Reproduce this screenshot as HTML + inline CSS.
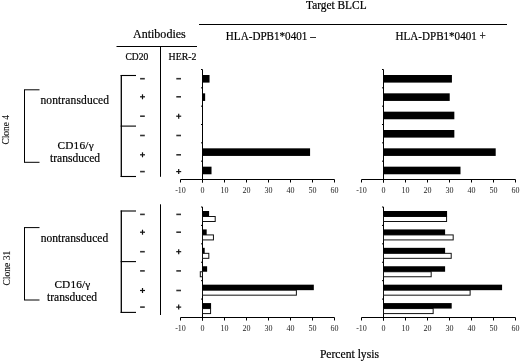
<!DOCTYPE html>
<html><head><meta charset="utf-8"><style>
html,body{margin:0;padding:0;background:#fff;width:520px;height:361px;overflow:hidden}
svg{display:block;will-change:transform}
text{font-family:"Liberation Serif", serif;fill:#000;stroke:#000;stroke-width:0.2px}
text.r{stroke-width:0.1px;fill:#111}
text.t{stroke-width:0;fill:#222}
</style></head><body>
<svg width="520" height="361" viewBox="0 0 520 361">
<text x="306.02" y="9.4" font-size="11.6" text-anchor="start" textLength="60.58" lengthAdjust="spacingAndGlyphs">Target BLCL</text>
<text x="225.84" y="39.75" font-size="11.8" text-anchor="start" textLength="89.88" lengthAdjust="spacingAndGlyphs">HLA-DPB1*0401 –</text>
<text x="395.6" y="39.75" font-size="11.8" text-anchor="start" textLength="90.14" lengthAdjust="spacingAndGlyphs">HLA-DPB1*0401 +</text>
<text x="132.97" y="37.75" font-size="11.8" text-anchor="start" textLength="52.81" lengthAdjust="spacingAndGlyphs">Antibodies</text>
<text x="125.43" y="59.5" font-size="10.3" text-anchor="start" textLength="22.81" lengthAdjust="spacingAndGlyphs">CD20</text>
<text x="168.53" y="59.5" font-size="10.3" text-anchor="start" textLength="27.93" lengthAdjust="spacingAndGlyphs">HER-2</text>
<text x="40.42" y="103.6" font-size="11.5" text-anchor="start" textLength="68.58" lengthAdjust="spacing">nontransduced</text>
<text x="57.38" y="148.75" font-size="11.3" text-anchor="start" textLength="36.30" lengthAdjust="spacing">CD16/γ</text>
<text x="50.04" y="161.5" font-size="11.5" text-anchor="start" textLength="49.96" lengthAdjust="spacing">transduced</text>
<text x="40.64" y="241.5" font-size="11.5" text-anchor="start" textLength="67.56" lengthAdjust="spacing">nontransduced</text>
<text x="54.38" y="288.0" font-size="11.3" text-anchor="start" textLength="35.96" lengthAdjust="spacing">CD16/γ</text>
<text x="47.04" y="300.6" font-size="11.5" text-anchor="start" textLength="49.96" lengthAdjust="spacing">transduced</text>
<text x="319.9" y="357.6" font-size="11.6" text-anchor="start" textLength="59.05" lengthAdjust="spacingAndGlyphs">Percent lysis</text>
<text class="r" x="0" y="0" font-size="10" textLength="29.71" lengthAdjust="spacingAndGlyphs" transform="translate(8.9,144.61) rotate(-90)">Clone 4</text>
<text class="r" x="0" y="0" font-size="10" textLength="34.78" lengthAdjust="spacingAndGlyphs" transform="translate(9.5,285.57) rotate(-90)">Clone 31</text>
<line x1="199" y1="24.5" x2="507" y2="24.5" stroke="#000" stroke-width="1.0"/>
<line x1="116.5" y1="46.5" x2="197" y2="46.5" stroke="#000" stroke-width="1.0"/>
<line x1="202.5" y1="69.5" x2="202.5" y2="182.5" stroke="#000" stroke-width="1.0"/>
<line x1="201.0" y1="69.5" x2="202.5" y2="69.5" stroke="#000" stroke-width="1.0"/>
<line x1="201.0" y1="87.83333333333333" x2="202.5" y2="87.83333333333333" stroke="#000" stroke-width="1.0"/>
<line x1="201.0" y1="106.16666666666666" x2="202.5" y2="106.16666666666666" stroke="#000" stroke-width="1.0"/>
<line x1="201.0" y1="124.5" x2="202.5" y2="124.5" stroke="#000" stroke-width="1.0"/>
<line x1="201.0" y1="142.83333333333331" x2="202.5" y2="142.83333333333331" stroke="#000" stroke-width="1.0"/>
<line x1="201.0" y1="161.16666666666669" x2="202.5" y2="161.16666666666669" stroke="#000" stroke-width="1.0"/>
<line x1="180.5" y1="179.5" x2="334.5" y2="179.5" stroke="#000" stroke-width="1.0"/>
<line x1="180.5" y1="179.5" x2="180.5" y2="182.5" stroke="#000" stroke-width="1.0"/>
<text x="180.5" y="193.2" font-size="8" text-anchor="middle" class="t">-10</text>
<line x1="202.5" y1="179.5" x2="202.5" y2="182.5" stroke="#000" stroke-width="1.0"/>
<text x="202.5" y="193.2" font-size="8" text-anchor="middle" class="t">0</text>
<line x1="224.5" y1="179.5" x2="224.5" y2="182.5" stroke="#000" stroke-width="1.0"/>
<text x="224.5" y="193.2" font-size="8" text-anchor="middle" class="t">10</text>
<line x1="246.5" y1="179.5" x2="246.5" y2="182.5" stroke="#000" stroke-width="1.0"/>
<text x="246.5" y="193.2" font-size="8" text-anchor="middle" class="t">20</text>
<line x1="268.5" y1="179.5" x2="268.5" y2="182.5" stroke="#000" stroke-width="1.0"/>
<text x="268.5" y="193.2" font-size="8" text-anchor="middle" class="t">30</text>
<line x1="290.5" y1="179.5" x2="290.5" y2="182.5" stroke="#000" stroke-width="1.0"/>
<text x="290.5" y="193.2" font-size="8" text-anchor="middle" class="t">40</text>
<line x1="312.5" y1="179.5" x2="312.5" y2="182.5" stroke="#000" stroke-width="1.0"/>
<text x="312.5" y="193.2" font-size="8" text-anchor="middle" class="t">50</text>
<line x1="334.5" y1="179.5" x2="334.5" y2="182.5" stroke="#000" stroke-width="1.0"/>
<text x="334.5" y="193.2" font-size="8" text-anchor="middle" class="t">60</text>
<line x1="202.5" y1="207.0" x2="202.5" y2="320.5" stroke="#000" stroke-width="1.0"/>
<line x1="201.0" y1="207.0" x2="202.5" y2="207.0" stroke="#000" stroke-width="1.0"/>
<line x1="201.0" y1="225.41666666666666" x2="202.5" y2="225.41666666666666" stroke="#000" stroke-width="1.0"/>
<line x1="201.0" y1="243.83333333333334" x2="202.5" y2="243.83333333333334" stroke="#000" stroke-width="1.0"/>
<line x1="201.0" y1="262.25" x2="202.5" y2="262.25" stroke="#000" stroke-width="1.0"/>
<line x1="201.0" y1="280.6666666666667" x2="202.5" y2="280.6666666666667" stroke="#000" stroke-width="1.0"/>
<line x1="201.0" y1="299.0833333333333" x2="202.5" y2="299.0833333333333" stroke="#000" stroke-width="1.0"/>
<line x1="180.5" y1="317.5" x2="334.5" y2="317.5" stroke="#000" stroke-width="1.0"/>
<line x1="180.5" y1="317.5" x2="180.5" y2="320.5" stroke="#000" stroke-width="1.0"/>
<text x="180.5" y="331.2" font-size="8" text-anchor="middle" class="t">-10</text>
<line x1="202.5" y1="317.5" x2="202.5" y2="320.5" stroke="#000" stroke-width="1.0"/>
<text x="202.5" y="331.2" font-size="8" text-anchor="middle" class="t">0</text>
<line x1="224.5" y1="317.5" x2="224.5" y2="320.5" stroke="#000" stroke-width="1.0"/>
<text x="224.5" y="331.2" font-size="8" text-anchor="middle" class="t">10</text>
<line x1="246.5" y1="317.5" x2="246.5" y2="320.5" stroke="#000" stroke-width="1.0"/>
<text x="246.5" y="331.2" font-size="8" text-anchor="middle" class="t">20</text>
<line x1="268.5" y1="317.5" x2="268.5" y2="320.5" stroke="#000" stroke-width="1.0"/>
<text x="268.5" y="331.2" font-size="8" text-anchor="middle" class="t">30</text>
<line x1="290.5" y1="317.5" x2="290.5" y2="320.5" stroke="#000" stroke-width="1.0"/>
<text x="290.5" y="331.2" font-size="8" text-anchor="middle" class="t">40</text>
<line x1="312.5" y1="317.5" x2="312.5" y2="320.5" stroke="#000" stroke-width="1.0"/>
<text x="312.5" y="331.2" font-size="8" text-anchor="middle" class="t">50</text>
<line x1="334.5" y1="317.5" x2="334.5" y2="320.5" stroke="#000" stroke-width="1.0"/>
<text x="334.5" y="331.2" font-size="8" text-anchor="middle" class="t">60</text>
<line x1="383.5" y1="69.5" x2="383.5" y2="182.5" stroke="#000" stroke-width="1.0"/>
<line x1="382.0" y1="69.5" x2="383.5" y2="69.5" stroke="#000" stroke-width="1.0"/>
<line x1="382.0" y1="87.83333333333333" x2="383.5" y2="87.83333333333333" stroke="#000" stroke-width="1.0"/>
<line x1="382.0" y1="106.16666666666666" x2="383.5" y2="106.16666666666666" stroke="#000" stroke-width="1.0"/>
<line x1="382.0" y1="124.5" x2="383.5" y2="124.5" stroke="#000" stroke-width="1.0"/>
<line x1="382.0" y1="142.83333333333331" x2="383.5" y2="142.83333333333331" stroke="#000" stroke-width="1.0"/>
<line x1="382.0" y1="161.16666666666669" x2="383.5" y2="161.16666666666669" stroke="#000" stroke-width="1.0"/>
<line x1="361.5" y1="179.5" x2="515.5" y2="179.5" stroke="#000" stroke-width="1.0"/>
<line x1="361.5" y1="179.5" x2="361.5" y2="182.5" stroke="#000" stroke-width="1.0"/>
<text x="361.5" y="193.2" font-size="8" text-anchor="middle" class="t">-10</text>
<line x1="383.5" y1="179.5" x2="383.5" y2="182.5" stroke="#000" stroke-width="1.0"/>
<text x="383.5" y="193.2" font-size="8" text-anchor="middle" class="t">0</text>
<line x1="405.5" y1="179.5" x2="405.5" y2="182.5" stroke="#000" stroke-width="1.0"/>
<text x="405.5" y="193.2" font-size="8" text-anchor="middle" class="t">10</text>
<line x1="427.5" y1="179.5" x2="427.5" y2="182.5" stroke="#000" stroke-width="1.0"/>
<text x="427.5" y="193.2" font-size="8" text-anchor="middle" class="t">20</text>
<line x1="449.5" y1="179.5" x2="449.5" y2="182.5" stroke="#000" stroke-width="1.0"/>
<text x="449.5" y="193.2" font-size="8" text-anchor="middle" class="t">30</text>
<line x1="471.5" y1="179.5" x2="471.5" y2="182.5" stroke="#000" stroke-width="1.0"/>
<text x="471.5" y="193.2" font-size="8" text-anchor="middle" class="t">40</text>
<line x1="493.5" y1="179.5" x2="493.5" y2="182.5" stroke="#000" stroke-width="1.0"/>
<text x="493.5" y="193.2" font-size="8" text-anchor="middle" class="t">50</text>
<line x1="515.5" y1="179.5" x2="515.5" y2="182.5" stroke="#000" stroke-width="1.0"/>
<text x="515.5" y="193.2" font-size="8" text-anchor="middle" class="t">60</text>
<line x1="383.5" y1="207.0" x2="383.5" y2="320.5" stroke="#000" stroke-width="1.0"/>
<line x1="382.0" y1="207.0" x2="383.5" y2="207.0" stroke="#000" stroke-width="1.0"/>
<line x1="382.0" y1="225.41666666666666" x2="383.5" y2="225.41666666666666" stroke="#000" stroke-width="1.0"/>
<line x1="382.0" y1="243.83333333333334" x2="383.5" y2="243.83333333333334" stroke="#000" stroke-width="1.0"/>
<line x1="382.0" y1="262.25" x2="383.5" y2="262.25" stroke="#000" stroke-width="1.0"/>
<line x1="382.0" y1="280.6666666666667" x2="383.5" y2="280.6666666666667" stroke="#000" stroke-width="1.0"/>
<line x1="382.0" y1="299.0833333333333" x2="383.5" y2="299.0833333333333" stroke="#000" stroke-width="1.0"/>
<line x1="361.5" y1="317.5" x2="515.5" y2="317.5" stroke="#000" stroke-width="1.0"/>
<line x1="361.5" y1="317.5" x2="361.5" y2="320.5" stroke="#000" stroke-width="1.0"/>
<text x="361.5" y="331.2" font-size="8" text-anchor="middle" class="t">-10</text>
<line x1="383.5" y1="317.5" x2="383.5" y2="320.5" stroke="#000" stroke-width="1.0"/>
<text x="383.5" y="331.2" font-size="8" text-anchor="middle" class="t">0</text>
<line x1="405.5" y1="317.5" x2="405.5" y2="320.5" stroke="#000" stroke-width="1.0"/>
<text x="405.5" y="331.2" font-size="8" text-anchor="middle" class="t">10</text>
<line x1="427.5" y1="317.5" x2="427.5" y2="320.5" stroke="#000" stroke-width="1.0"/>
<text x="427.5" y="331.2" font-size="8" text-anchor="middle" class="t">20</text>
<line x1="449.5" y1="317.5" x2="449.5" y2="320.5" stroke="#000" stroke-width="1.0"/>
<text x="449.5" y="331.2" font-size="8" text-anchor="middle" class="t">30</text>
<line x1="471.5" y1="317.5" x2="471.5" y2="320.5" stroke="#000" stroke-width="1.0"/>
<text x="471.5" y="331.2" font-size="8" text-anchor="middle" class="t">40</text>
<line x1="493.5" y1="317.5" x2="493.5" y2="320.5" stroke="#000" stroke-width="1.0"/>
<text x="493.5" y="331.2" font-size="8" text-anchor="middle" class="t">50</text>
<line x1="515.5" y1="317.5" x2="515.5" y2="320.5" stroke="#000" stroke-width="1.0"/>
<text x="515.5" y="331.2" font-size="8" text-anchor="middle" class="t">60</text>
<rect x="202.50" y="75.00" width="7.04" height="7.60" fill="#000"/>
<rect x="202.50" y="93.33" width="2.64" height="7.60" fill="#000"/>
<rect x="202.50" y="148.33" width="107.58" height="7.60" fill="#000"/>
<rect x="202.50" y="166.67" width="9.02" height="7.60" fill="#000"/>
<rect x="383.50" y="75.00" width="68.42" height="7.60" fill="#000"/>
<rect x="383.50" y="93.33" width="66.22" height="7.60" fill="#000"/>
<rect x="383.50" y="111.67" width="70.84" height="7.60" fill="#000"/>
<rect x="383.50" y="130.00" width="70.84" height="7.60" fill="#000"/>
<rect x="383.50" y="148.33" width="112.20" height="7.60" fill="#000"/>
<rect x="383.50" y="166.67" width="77.00" height="7.60" fill="#000"/>
<rect x="202.50" y="216.50" width="12.70" height="5.00" fill="#fff" stroke="#111" stroke-width="1"/>
<rect x="202.50" y="211.00" width="6.60" height="5.50" fill="#000"/>
<rect x="202.50" y="234.92" width="10.94" height="5.00" fill="#fff" stroke="#111" stroke-width="1"/>
<rect x="202.50" y="229.42" width="4.18" height="5.50" fill="#000"/>
<rect x="202.50" y="253.33" width="6.32" height="5.00" fill="#fff" stroke="#111" stroke-width="1"/>
<rect x="202.50" y="247.83" width="2.20" height="5.50" fill="#000"/>
<rect x="200.30" y="271.75" width="2.20" height="5.00" fill="#fff" stroke="#111" stroke-width="1"/>
<rect x="202.50" y="266.25" width="4.62" height="5.50" fill="#000"/>
<rect x="202.50" y="290.17" width="93.88" height="5.00" fill="#fff" stroke="#111" stroke-width="1"/>
<rect x="202.50" y="284.67" width="111.32" height="5.50" fill="#000"/>
<rect x="202.50" y="308.58" width="8.08" height="5.00" fill="#fff" stroke="#111" stroke-width="1"/>
<rect x="202.50" y="303.08" width="8.58" height="5.50" fill="#000"/>
<rect x="383.50" y="216.50" width="63.08" height="5.00" fill="#fff" stroke="#111" stroke-width="1"/>
<rect x="383.50" y="211.00" width="63.58" height="5.50" fill="#000"/>
<rect x="383.50" y="234.92" width="69.68" height="5.00" fill="#fff" stroke="#111" stroke-width="1"/>
<rect x="383.50" y="229.42" width="61.60" height="5.50" fill="#000"/>
<rect x="383.50" y="253.33" width="67.70" height="5.00" fill="#fff" stroke="#111" stroke-width="1"/>
<rect x="383.50" y="247.83" width="61.60" height="5.50" fill="#000"/>
<rect x="383.50" y="271.75" width="47.68" height="5.00" fill="#fff" stroke="#111" stroke-width="1"/>
<rect x="383.50" y="266.25" width="61.60" height="5.50" fill="#000"/>
<rect x="383.50" y="290.17" width="86.62" height="5.00" fill="#fff" stroke="#111" stroke-width="1"/>
<rect x="383.50" y="284.67" width="118.58" height="5.50" fill="#000"/>
<rect x="383.50" y="308.58" width="49.66" height="5.00" fill="#fff" stroke="#111" stroke-width="1"/>
<rect x="383.50" y="303.08" width="68.20" height="5.50" fill="#000"/>
<line x1="140.1" y1="78.7" x2="144.8" y2="78.7" stroke="#333" stroke-width="1.6"/>
<line x1="176.29999999999998" y1="78.7" x2="181.0" y2="78.7" stroke="#333" stroke-width="1.6"/>
<line x1="140.0" y1="96.8" x2="145.0" y2="96.8" stroke="#111" stroke-width="1.2"/>
<line x1="142.5" y1="94.3" x2="142.5" y2="99.3" stroke="#111" stroke-width="1.2"/>
<line x1="176.29999999999998" y1="96.8" x2="181.0" y2="96.8" stroke="#333" stroke-width="1.6"/>
<line x1="140.1" y1="116.2" x2="144.8" y2="116.2" stroke="#333" stroke-width="1.6"/>
<line x1="176.2" y1="116.2" x2="181.2" y2="116.2" stroke="#111" stroke-width="1.2"/>
<line x1="178.7" y1="113.7" x2="178.7" y2="118.7" stroke="#111" stroke-width="1.2"/>
<line x1="140.1" y1="135.5" x2="144.8" y2="135.5" stroke="#333" stroke-width="1.6"/>
<line x1="176.29999999999998" y1="135.5" x2="181.0" y2="135.5" stroke="#333" stroke-width="1.6"/>
<line x1="140.0" y1="154.8" x2="145.0" y2="154.8" stroke="#111" stroke-width="1.2"/>
<line x1="142.5" y1="152.3" x2="142.5" y2="157.3" stroke="#111" stroke-width="1.2"/>
<line x1="176.29999999999998" y1="154.8" x2="181.0" y2="154.8" stroke="#333" stroke-width="1.6"/>
<line x1="140.1" y1="171.6" x2="144.8" y2="171.6" stroke="#333" stroke-width="1.6"/>
<line x1="176.2" y1="171.6" x2="181.2" y2="171.6" stroke="#111" stroke-width="1.2"/>
<line x1="178.7" y1="169.1" x2="178.7" y2="174.1" stroke="#111" stroke-width="1.2"/>
<line x1="140.1" y1="214.4" x2="144.8" y2="214.4" stroke="#333" stroke-width="1.6"/>
<line x1="176.29999999999998" y1="214.4" x2="181.0" y2="214.4" stroke="#333" stroke-width="1.6"/>
<line x1="140.0" y1="232.2" x2="145.0" y2="232.2" stroke="#111" stroke-width="1.2"/>
<line x1="142.5" y1="229.7" x2="142.5" y2="234.7" stroke="#111" stroke-width="1.2"/>
<line x1="176.29999999999998" y1="232.2" x2="181.0" y2="232.2" stroke="#333" stroke-width="1.6"/>
<line x1="140.1" y1="251.7" x2="144.8" y2="251.7" stroke="#333" stroke-width="1.6"/>
<line x1="176.2" y1="251.7" x2="181.2" y2="251.7" stroke="#111" stroke-width="1.2"/>
<line x1="178.7" y1="249.2" x2="178.7" y2="254.2" stroke="#111" stroke-width="1.2"/>
<line x1="140.1" y1="270.9" x2="144.8" y2="270.9" stroke="#333" stroke-width="1.6"/>
<line x1="176.29999999999998" y1="270.9" x2="181.0" y2="270.9" stroke="#333" stroke-width="1.6"/>
<line x1="140.0" y1="290.5" x2="145.0" y2="290.5" stroke="#111" stroke-width="1.2"/>
<line x1="142.5" y1="288.0" x2="142.5" y2="293.0" stroke="#111" stroke-width="1.2"/>
<line x1="176.29999999999998" y1="290.5" x2="181.0" y2="290.5" stroke="#333" stroke-width="1.6"/>
<line x1="140.1" y1="307.1" x2="144.8" y2="307.1" stroke="#333" stroke-width="1.6"/>
<line x1="176.2" y1="307.1" x2="181.2" y2="307.1" stroke="#111" stroke-width="1.2"/>
<line x1="178.7" y1="304.6" x2="178.7" y2="309.6" stroke="#111" stroke-width="1.2"/>
<line x1="160.5" y1="46.5" x2="160.5" y2="176.8" stroke="#000" stroke-width="1.0"/>
<line x1="160.5" y1="204.3" x2="160.5" y2="315" stroke="#000" stroke-width="1.0"/>
<line x1="121.3" y1="75.0" x2="121.3" y2="177.0" stroke="#000" stroke-width="1.3"/>
<line x1="120.65" y1="75.5" x2="136" y2="75.5" stroke="#000" stroke-width="1.1"/>
<line x1="120.65" y1="126.1" x2="136" y2="126.1" stroke="#000" stroke-width="1.1"/>
<line x1="120.65" y1="176.5" x2="136" y2="176.5" stroke="#000" stroke-width="1.1"/>
<line x1="121.3" y1="210.5" x2="121.3" y2="312.9" stroke="#000" stroke-width="1.3"/>
<line x1="120.65" y1="211.0" x2="136" y2="211.0" stroke="#000" stroke-width="1.1"/>
<line x1="120.65" y1="261.6" x2="136" y2="261.6" stroke="#000" stroke-width="1.1"/>
<line x1="120.65" y1="312.4" x2="136" y2="312.4" stroke="#000" stroke-width="1.1"/>
<line x1="24.5" y1="89.8" x2="24.5" y2="162.3" stroke="#000" stroke-width="1.0"/>
<line x1="24" y1="89.8" x2="39.5" y2="89.8" stroke="#000" stroke-width="1.0"/>
<line x1="24" y1="162.3" x2="39.5" y2="162.3" stroke="#000" stroke-width="1.0"/>
<line x1="24.5" y1="227.6" x2="24.5" y2="300.0" stroke="#000" stroke-width="1.0"/>
<line x1="24" y1="227.6" x2="39.5" y2="227.6" stroke="#000" stroke-width="1.0"/>
<line x1="24" y1="300.0" x2="39.5" y2="300.0" stroke="#000" stroke-width="1.0"/>
</svg>
</body></html>
